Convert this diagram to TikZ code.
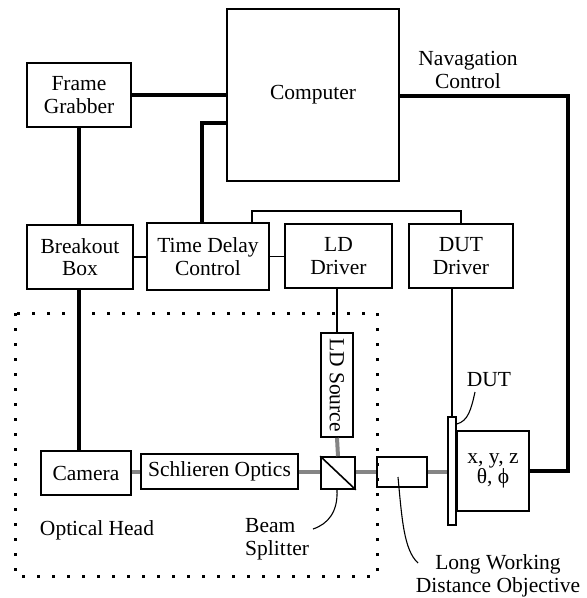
\documentclass[tikz,border=0pt]{standalone}
\usepackage{fontspec}
\setmainfont{Liberation Serif}
\begin{document}
\begin{tikzpicture}[x=1pt,y=-1pt,
  every node/.style={font=\fontsize{21.5}{22.5}\selectfont, inner sep=0pt, align=center},
  box/.style={draw, line width=1.6pt, minimum width=#1},
  thickwire/.style={line width=4pt},
  thinwire/.style={line width=1.6pt},
  beam/.style={line width=4pt, black!48},
  callout/.style={line width=1.1pt},
  headframe/.style={line width=3pt, dash pattern=on 3pt off 12pt}]
\useasboundingbox (0,0) rectangle (587,598);

% instrument blocks
\node[box=172pt, minimum height=172pt] (comp) at (313,95) {Computer};
\node[box=104pt, minimum height=64pt] (fg) at (79,95) {Frame\\Grabber};
\node[box=106pt, minimum height=64pt] (bb) at (80,257) {Breakout\\Box};
\node[box=122pt, minimum height=67pt] (tdc) at (208,256.5) {Time Delay\\Control};
\node[box=107pt, minimum height=64pt] (ldd) at (338.5,256) {LD\\Driver};
\node[box=104pt, minimum height=64pt] (dutd) at (461,256) {DUT\\Driver};

% optical parts
\node[box=32pt, minimum height=104pt] (lds) at (337,385) {};
\node[rotate=-90] (ldst) at (lds.center) {LD Source};
\node[box=34pt, minimum height=32pt] (bs) at (338,473) {};
\node[box=90pt, minimum height=44pt] (cam) at (86,473) {Camera};
\node[box=157pt, minimum height=35pt] (so) at (219.5,471.5) {Schlieren Optics};
\node[box=50pt, minimum height=30pt] (lwd) at (402,472) {};
\node[box=8pt, minimum height=108pt] (plate) at (452,471) {};
\node[box=72pt, minimum height=80pt] (xyz) at (493,471) {x, y, z\\[-3pt]θ, ϕ};

% free labels
\node (nav) at (468,70) {Navagation\\Control};
\node (ohead) at (97,530) {Optical Head};
\node[align=left, anchor=west] (bsl) at (245,539) {Beam\\Split\kern0.5pt ter};
\node (dutl) at (489,380) {DUT};
\node (lwdl) at (498,576) {Long Working\\Distance Objective};

% optical head enclosure
\draw[headframe] (15,313) rectangle (377,576);

% beam splitter cube diagonal
\draw[thinwire] (bs.north west) -- (bs.south east);

% data connections
\draw[thickwire] (fg.east) -- (fg.east -| comp.west);
\coordinate (ct) at (202,123);
\draw[thickwire] (ct -| comp.west) -- (ct) -- (ct |- tdc.north);
\draw[thickwire] (fg.south) -- (fg.south |- bb.north);
\draw[thickwire] (bb.south -| fg.south) -- (cam.north -| fg.south);
\coordinate (nv) at (568,96);
\draw[thickwire] (nv -| comp.east) -- (nv) |- (xyz.east);

\draw[thinwire] (bb.east) -- (bb.east -| tdc.west);
\draw[thinwire] (tdc.east) -- (tdc.east -| ldd.west);
\coordinate (br) at (252,211);
\draw[thinwire] (br |- tdc.north) -- (br) -| (dutd.north);
\draw[thinwire] (ldd.south -| lds.north) -- (lds.north);
\draw[thinwire] (dutd.south -| plate.north) -- (plate.north);

% optical path
\coordinate (ax) at (0,472);
\draw[beam] (cam.east |- ax) -- (so.west |- ax);
\draw[beam] (so.east |- ax) -- (bs.west |- ax);
\draw[beam] (bs.east |- ax) -- (lwd.west |- ax);
\draw[beam] (lwd.east |- ax) -- (plate.west |- ax);
\draw[beam] (lds.south) -- (bs.north);

% callouts
\coordinate (dutc) at (475,392);
\draw[callout] (dutc) .. controls (471,410) and (468,421) .. (plate.east |- 0,424);
\coordinate (lwdc) at (398,477);
\draw[callout] (lwdc) .. controls (402,520) and (404,550) .. (418,563);
\coordinate (bsc) at (337,490);
\draw[callout] (bsc) .. controls (338,512) and (328,524) .. (313,529);
\end{tikzpicture}
\end{document}
